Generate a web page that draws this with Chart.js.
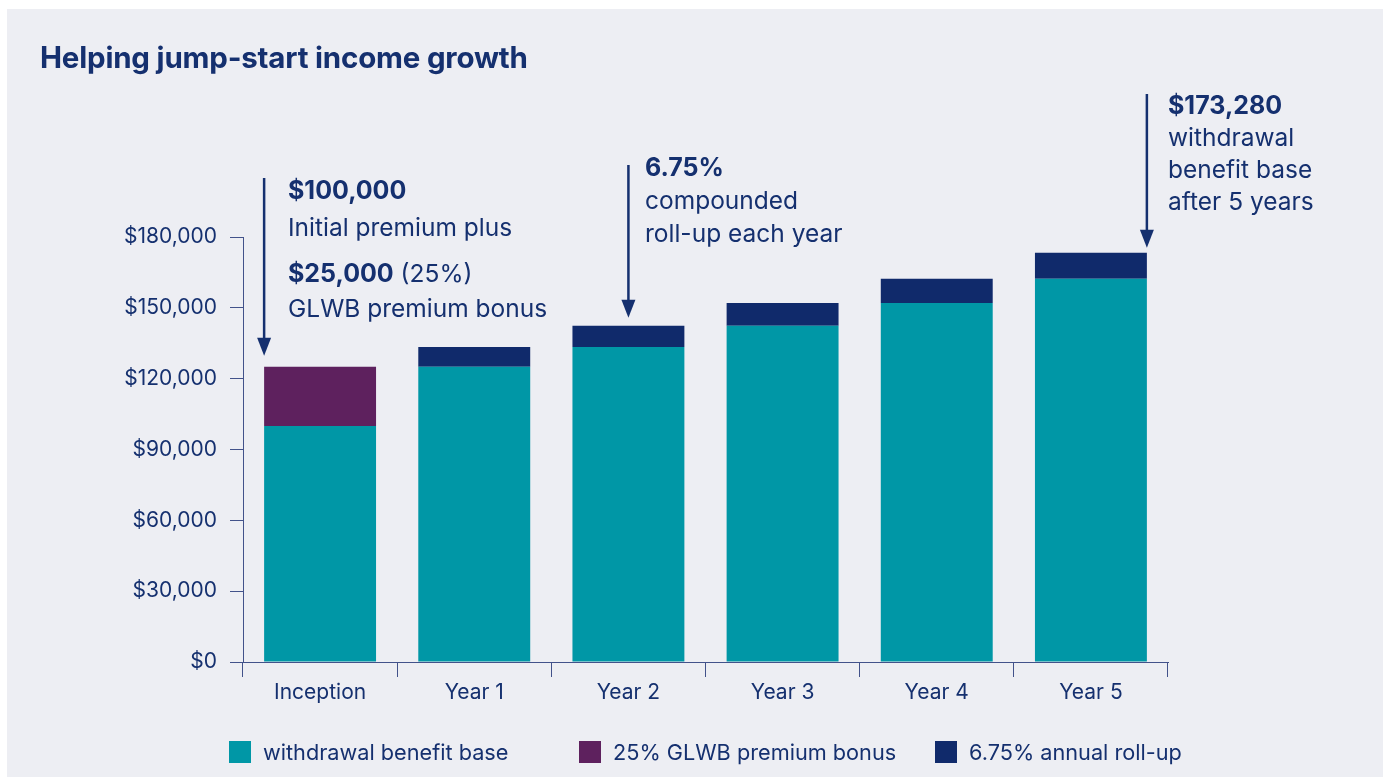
<!DOCTYPE html>
<html>
<head>
<meta charset="utf-8">
<script src="https://cdn.jsdelivr.net/npm/chart.js@4"></script>
<style>
  html, body { margin: 0; padding: 0; background: #fff; }
  body { width: 1383px; height: 777px; position: relative; overflow: hidden; font-family: Inter, "Open Sans", sans-serif; color: #15306f; }
  .panel { position: absolute; left: 7px; top: 9px; right: 0; bottom: 0; background: #edeef3; }
  #chart { position: absolute; left: 0; top: 0; }
  h1 { position: absolute; left: 40px; top: 39px; margin: 0; font-size: 29.5px; font-weight: 700; letter-spacing: -0.2px; }
  .note { position: absolute; font-size: 24.5px; line-height: 32px; white-space: nowrap; }
  .note b { font-weight: 700; font-size: 25px; }
  .legend { position: absolute; top: 741px; font-size: 21.7px; line-height: 22px; white-space: nowrap; }
  .legend i { display: inline-block; width: 22px; height: 22px; vertical-align: top; margin-right: 12px; }
</style>
</head>
<body>
<div class="panel"></div>
<canvas id="chart" width="1383" height="777"></canvas>
<h1>Helping jump-start income growth</h1>

<div class="note" style="left:288px; top:172px; line-height:37px;"><b>$100,000</b><br>Initial premium plus</div>
<div class="note" style="left:288px; top:256px; line-height:35px;"><b>$25,000</b> (25%)<br>GLWB premium bonus</div>
<div class="note" style="left:645px; top:151px; line-height:33px;"><b>6.75%</b><br>compounded<br>roll-up each year</div>
<div class="note" style="left:1168px; top:89px;"><b>$173,280</b><br>withdrawal<br>benefit base<br>after 5 years</div>

<div class="legend" style="left:229px;"><i style="background:#0097a6"></i>withdrawal benefit base</div>
<div class="legend" style="left:579px;"><i style="background:#5e215e"></i>25% GLWB premium bonus</div>
<div class="legend" style="left:935px;"><i style="background:#102a6b"></i>6.75% annual roll-up</div>

<script>
const categories = ['Inception', 'Year 1', 'Year 2', 'Year 3', 'Year 4', 'Year 5'];
const benefitBase = [100000, 125000, 133438, 142445, 152060, 162324];
const premiumBonus = [25000, 0, 0, 0, 0, 0];
const annualRollUp = [0, 8438, 9007, 9615, 10264, 10956];
const yTicks = [0, 30000, 60000, 90000, 120000, 150000, 180000];

const totals = categories.map((_, i) => benefitBase[i] + premiumBonus[i] + annualRollUp[i]);

const navy = '#15306f';
const axisColor = '#42528a';

// arrows pointing at the bars: which bar, which edge, where the shaft starts, gap above the bar
const callouts = [
  { index: 0, edge: 'left', from: 178, gap: 11 },
  { index: 2, edge: 'center', from: 165, gap: 8 },
  { index: 5, edge: 'right', from: 94, gap: 5 }
];

const arrowPlugin = {
  id: 'calloutArrows',
  afterDatasetsDraw(chart) {
    const ctx = chart.ctx;
    const yScale = chart.scales.y;
    const bars = chart.getDatasetMeta(0).data;
    ctx.save();
    ctx.strokeStyle = navy;
    ctx.fillStyle = navy;
    ctx.lineWidth = 2.5;
    callouts.forEach(c => {
      const bar = bars[c.index];
      let x = bar.x;
      if (c.edge === 'left') x = bar.x - bar.width / 2;
      if (c.edge === 'right') x = bar.x + bar.width / 2;
      const tip = yScale.getPixelForValue(totals[c.index]) - c.gap;
      ctx.beginPath();
      ctx.moveTo(x, c.from);
      ctx.lineTo(x, tip - 14);
      ctx.stroke();
      ctx.beginPath();
      ctx.moveTo(x - 7, tip - 18);
      ctx.lineTo(x + 7, tip - 18);
      ctx.lineTo(x, tip);
      ctx.closePath();
      ctx.fill();
    });
    ctx.restore();
  }
};

const barOpts = { barPercentage: 0.726, categoryPercentage: 1, borderWidth: 0 };

new Chart(document.getElementById('chart'), {
  type: 'bar',
  data: {
    labels: categories,
    datasets: [
      { label: 'withdrawal benefit base', data: benefitBase, backgroundColor: '#0097a6', ...barOpts },
      { label: '25% GLWB premium bonus', data: premiumBonus, backgroundColor: '#5e215e', ...barOpts },
      { label: '6.75% annual roll-up', data: annualRollUp, backgroundColor: '#102a6b', ...barOpts }
    ]
  },
  options: {
    responsive: false,
    animation: false,
    layout: { padding: { left: 0, right: 215, top: 237, bottom: 0 } },
    plugins: { legend: { display: false }, tooltip: { enabled: false } },
    scales: {
      x: {
        stacked: true,
        afterFit: scale => { scale.height = 115; },
        grid: { drawOnChartArea: false, drawTicks: true, tickLength: 15, color: axisColor, lineWidth: 1 },
        border: { display: true, color: axisColor, width: 1 },
        ticks: { color: navy, padding: 3, font: { family: 'Inter', size: 21 } }
      },
      y: {
        stacked: true,
        min: 0,
        max: 180000,
        afterFit: scale => { scale.width = 243; },
        afterBuildTicks: scale => { scale.ticks = yTicks.map(v => ({ value: v })); },
        grid: { drawOnChartArea: false, drawTicks: true, tickLength: 13, color: axisColor, lineWidth: 1 },
        border: { display: true, color: axisColor, width: 1 },
        ticks: {
          color: navy,
          padding: 13,
          font: { family: 'Inter', size: 21 },
          callback: v => '$' + v.toLocaleString('en-US')
        }
      }
    }
  },
  plugins: [arrowPlugin]
});
</script>
</body>
</html>
